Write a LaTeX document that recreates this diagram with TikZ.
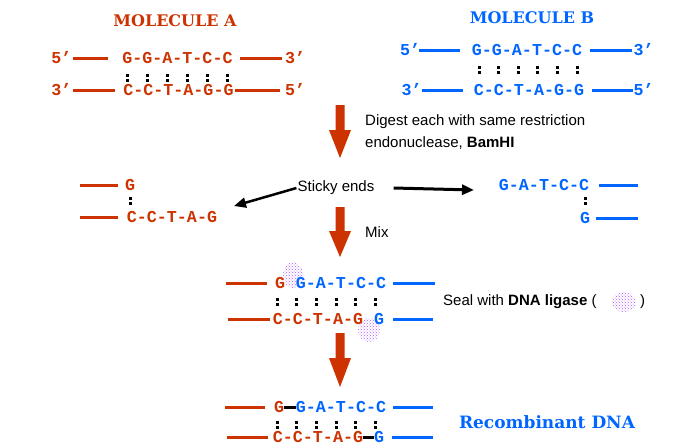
\documentclass[tikz,border=0pt]{standalone}
\usepackage{fontspec}
\setmainfont{Liberation Sans}
\newfontfamily\seqfont{Liberation Mono}
\newfontfamily\headfont{DejaVu Serif}
\usetikzlibrary{arrows.meta,patterns}

\definecolor{dnared}{HTML}{CC3300}
\definecolor{dnablue}{HTML}{0066FF}
\definecolor{ligase}{HTML}{9933FF}

\tikzset{
    seq/.style={font=\seqfont\bfseries\fontsize{16.67}{18}\selectfont, inner sep=0pt},
    redseq/.style={seq, text=dnared},
    blueseq/.style={seq, text=dnablue},
    redline/.style={draw=dnared, line width=3pt},
    blueline/.style={draw=dnablue, line width=3pt},
    bond/.style={draw=black, line width=3pt},
    note/.style={font=\fontsize{15}{18}\selectfont, inner sep=0pt, anchor=west},
    heading/.style={font=\headfont\bfseries\fontsize{16}{19}\selectfont, inner sep=0pt},
    blob/.style={fill=ligase!15, pattern=crosshatch dots, pattern color=ligase!80},
    cut/.style={-{Triangle[length=12pt,width=10pt]}, line width=2.5pt}
}

% two small dots of a base pair
\newcommand{\hbond}[2]{
    \fill (#1-1.5,#2-4) rectangle ++(3,3);
    \fill (#1-1.5,#2+1) rectangle ++(3,3);
}

\begin{document}
\begin{tikzpicture}[x=1pt,y=-1pt]
\useasboundingbox (0,0) rectangle (684,445);

% ===== Molecule A =====
\node[heading, text=dnared] (titleA) at (175,21) {MOLECULE A};

\node[redseq] (a5t) at (61.5,58) {5’};
\node[redseq] (aTop) at (177.5,58) {G-G-A-T-C-C};
\node[redseq] (a3t) at (295,58) {3’};
\draw[redline] ([xshift=1.5pt]a5t.east) -- ++(35,0);
\draw[redline] ([xshift=7.5pt]aTop.east) -- ++(42,0);

\foreach \i in {0,...,5} {
    \hbond{127.5+20*\i}{78}
}

\node[redseq] (a3b) at (61.5,90) {3’};
\node[redseq] (aBot) at (178.5,90) {C-C-T-A-G-G};
\node[redseq] (a5b) at (295,90) {5’};
\draw[redline] ([xshift=1.5pt]a3b.east) -- ++(42,0);
\draw[redline] ([xshift=1.5pt]aBot.east) -- ++(45,0);

% ===== Molecule B =====
\node[heading, text=dnablue] (titleB) at (532,18) {MOLECULE B};

\node[blueseq] (b5t) at (410,50) {5’};
\node[blueseq] (bTop) at (527,50) {G-G-A-T-C-C};
\node[blueseq] (b3t) at (643.5,50) {3’};
\draw[blueline] ([xshift=-1pt]b5t.east) -- ++(41,0);
\draw[blueline] ([xshift=8pt]bTop.east) -- ++(42,0);

\foreach \i in {0,...,5} {
    \hbond{479+19.6*\i}{70}
}

\node[blueseq] (b3b) at (411.5,90) {3’};
\node[blueseq] (bBot) at (529,90) {C-C-T-A-G-G};
\node[blueseq] (b5b) at (643.5,90) {5’};
\draw[blueline] ([xshift=0.5pt]b3b.east) -- ++(41,0);
\draw[blueline] ([xshift=8pt]bBot.east) -- ++(41,0);

% ===== Red arrows =====
\foreach \top/\neck/\tip in {105/130/158, 207/231/257, 333/358/387} {
    \fill[dnared] (335.5,\top) -- (344.5,\top) -- (344.5,\neck) -- (351,\neck)
        -- (340,\tip) -- (329,\neck) -- (335.5,\neck) -- cycle;
}

\node[note] (digest1) at (365,122) {Digest each with same restriction};
\node[note] (digest2) at (365,143) {endonuclease, \textbf{BamHI}};

% ===== Sticky ends =====
\node[redseq] (lG) at (130,185) {G};
\hbond{130}{201}
\node[redseq] (lBot) at (172,217) {C-C-T-A-G};
\draw[redline] ([xshift=-7pt]lG.west) -- ++(-38,0);
\draw[redline] ([xshift=-9pt]lBot.west) -- ++(-38,0);

\node[blueseq] (rTop) at (544,185) {G-A-T-C-C};
\hbond{585}{201}
\node[blueseq] (rG) at (585,218) {G};
\draw[blueline] ([xshift=10pt]rTop.east) -- ++(39,0);
\draw[blueline] ([xshift=6pt]rG.east) -- ++(42,0);

\node[note, anchor=center] (sticky) at (336,188) {Sticky ends};
\coordinate (tipL) at (234,206);
\coordinate (tipR) at (474,190);
\draw[cut] ([xshift=-1pt]sticky.west) -- (tipL);
\draw[cut, line width=3pt] ([xshift=19pt]sticky.east) -- (tipR);

\node[note] (mix) at (365,232) {Mix};

% ===== Seal with ligase =====
\fill[blob] (293,275) ellipse (10 and 13);
\fill[blob] (369,330) ellipse (11 and 12);

\node[redseq] (sG) at (280,283) {G};
\node[blueseq] (sTop) at (341,283) {G-A-T-C-C};
\draw[redline] ([xshift=-8pt]sG.west) -- ++(-41,0);
\draw[blueline] ([xshift=7pt]sTop.east) -- ++(42,0);

\foreach \i in {0,...,5} {
    \hbond{277+19.7*\i}{302}
}

\node[redseq] (sBot) at (318,319) {C-C-T-A-G};
\node[blueseq] (sG2) at (379,319) {G};
\draw[redline] ([xshift=-3pt]sBot.west) -- ++(-42,0);
\draw[blueline] ([xshift=9pt]sG2.east) -- ++(40,0);

\node[note] (seal) at (443,302) {Seal with \textbf{DNA ligase} (};
\fill[blob] (624,302) ellipse (12 and 10);
\node[note] (sealEnd) at (640,302) {)};

% ===== Recombinant DNA =====
\node[redseq] (cG) at (279,407) {G};
\node[blueseq] (cTop) at (341,407) {G-A-T-C-C};
\draw[bond] (cG.east) -- (cTop.west);
\draw[redline] ([xshift=-9pt]cG.west) -- ++(-40,0);
\draw[blueline] ([xshift=7pt]cTop.east) -- ++(40,0);

\foreach \i in {0,...,5} {
    \hbond{277+19.7*\i}{425}
}

\node[redseq] (cBot) at (318,437) {C-C-T-A-G};
\node[blueseq] (cG2) at (379,437) {G};
\draw[bond] (cBot.east) -- (cG2.west);
\draw[redline] ([xshift=-5pt]cBot.west) -- ++(-41,0);
\draw[blueline] ([xshift=8pt]cG2.east) -- ++(41,0);

\node[heading, text=dnablue, font=\headfont\bfseries\fontsize{17}{20}\selectfont] (recomb) at (547,422) {Recombinant DNA};

\end{tikzpicture}
\end{document}
